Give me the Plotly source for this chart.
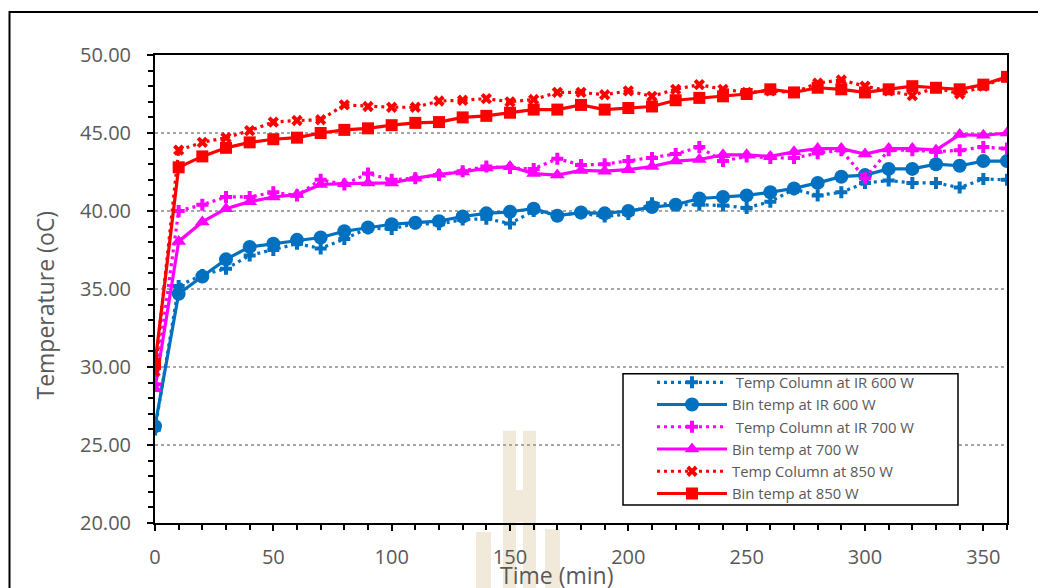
import plotly.graph_objects as go

time_min = [0, 10, 20, 30, 40, 50, 60, 70, 80, 90, 100, 110, 120, 130, 140, 150, 160, 170, 180,
            190, 200, 210, 220, 230, 240, 250, 260, 270, 280, 290, 300, 310, 320, 330, 340, 350, 360]

col_600 = [26.0, 35.2, 35.9, 36.3, 37.15, 37.5, 37.9, 37.6, 38.2, 38.9, 38.85, 39.2, 39.15, 39.45, 39.5,
           39.2, 40.0, 39.75, 39.85, 39.65, 39.8, 40.5, 40.4, 40.4, 40.35, 40.2, 40.6, 41.4, 41.0, 41.2,
           41.8, 41.95, 41.8, 41.8, 41.5, 42.05, 42.0]
bin_600 = [26.2, 34.7, 35.8, 36.9, 37.7, 37.9, 38.15, 38.3, 38.7, 38.95, 39.15, 39.25, 39.35, 39.65, 39.85,
           39.95, 40.15, 39.7, 39.9, 39.85, 40.0, 40.25, 40.4, 40.8, 40.9, 41.0, 41.2, 41.45, 41.8, 42.2,
           42.3, 42.7, 42.7, 43.0, 42.9, 43.2, 43.2]
col_700 = [28.9, 40.0, 40.4, 40.9, 40.9, 41.2, 41.0, 42.0, 41.7, 42.4, 42.0, 42.1, 42.3, 42.55, 42.85,
           42.75, 42.7, 43.35, 42.95, 43.0, 43.2, 43.4, 43.65, 44.1, 43.2, 43.5, 43.4, 43.4, 43.7, 43.9,
           42.1, 43.9, 43.9, 43.8, 43.9, 44.1, 44.0]
bin_700 = [28.6, 38.05, 39.3, 40.15, 40.6, 40.9, 41.05, 41.7, 41.75, 41.8, 41.8, 42.1, 42.35, 42.5, 42.75,
           42.85, 42.4, 42.3, 42.6, 42.55, 42.65, 42.85, 43.2, 43.3, 43.6, 43.6, 43.5, 43.8, 44.0, 44.0,
           43.65, 44.0, 44.0, 43.9, 44.9, 44.85, 45.0]
col_850 = [29.7, 43.9, 44.4, 44.7, 45.15, 45.7, 45.8, 45.85, 46.8, 46.7, 46.65, 46.65, 47.05, 47.1, 47.2,
           47.0, 47.15, 47.6, 47.6, 47.45, 47.7, 47.35, 47.8, 48.1, 47.8, 47.6, 47.7, 47.6, 48.2, 48.4,
           48.0, 47.7, 47.4, 47.9, 47.5, 48.0, 48.6]
bin_850 = [30.2, 42.8, 43.5, 44.05, 44.4, 44.6, 44.7, 45.0, 45.2, 45.3, 45.5, 45.65, 45.7, 46.0, 46.1,
           46.3, 46.5, 46.5, 46.8, 46.5, 46.6, 46.7, 47.1, 47.25, 47.35, 47.5, 47.8, 47.6, 47.9, 47.8,
           47.6, 47.8, 48.0, 47.9, 47.8, 48.1, 48.6]

x_ticks = [0, 50, 100, 150, 200, 250, 300, 350]

BLUE = "#0070C0"
MAG = "#FF00FF"
RED = "#FF0000"
DOT = "3px,4px"

series = [
    (" Temp Column at IR 600 W", col_600, BLUE, DOT, "cross", 10),
    ("Bin temp at IR 600 W", bin_600, BLUE, "solid", "circle", 14),
    (" Temp Column at IR 700 W", col_700, MAG, DOT, "cross", 10),
    ("Bin temp at 700 W", bin_700, MAG, "solid", "triangle-up", 13),
    ("Temp Column at 850 W", col_850, RED, DOT, "x", 10),
    ("Bin temp at 850 W", bin_850, RED, "solid", "square", 12),
]

fig = go.Figure()
for name, vals, color, dash, sym, size in series:
    fig.add_trace(go.Scatter(
        x=time_min, y=vals, name=name, mode="lines+markers",
        line=dict(color=color, width=3.2, dash=dash),
        marker=dict(symbol=sym, size=size, color=color, line=dict(width=0)),
    ))

GRAY = "#595959"
tickfont = dict(family="Open Sans", size=20, color=GRAY)

# pixel (window) -> paper helpers for decorations; plot area spans x 155..1007, y 54..521
def px(x):
    return (x - 155) / 852.0

def py(y):
    return (521 - y) / 467.0

WM = "#F1E9D9"
def wm_rect(x0, x1, y0, y1):
    return dict(type="rect", xref="paper", yref="paper", x0=px(x0), x1=px(x1), y0=py(y1), y1=py(y0),
                line=dict(width=0), fillcolor=WM, layer="below")

shapes = [
    # faint watermark behind the chart
    wm_rect(503, 516, 429, 600),
    wm_rect(523, 536, 429, 600),
    wm_rect(516, 523, 488, 520),
    wm_rect(545, 560, 527, 600),
    wm_rect(476, 491, 530, 600),
    # outer chart frame
    dict(type="rect", xref="paper", yref="paper", x0=px(9.5), x1=1.2, y0=-0.3, y1=py(11),
         line=dict(color="black", width=2), fillcolor="rgba(0,0,0,0)", layer="below"),
    # legend frame
    dict(type="rect", xref="paper", yref="paper", x0=px(623), x1=px(958), y0=py(503), y1=py(372),
         line=dict(color="black", width=1.5), fillcolor="white", layer="above"),
]

# page body adds an 8px offset; figure is sized/margined so the plot lands where the reference has it
fig.update_layout(
    width=1038, height=580,
    margin=dict(l=147, r=39, t=47, b=65),
    paper_bgcolor="white", plot_bgcolor="rgba(0,0,0,0)",
    showlegend=True,
    legend=dict(
        x=px(652), y=py(364.5), xanchor="left", yanchor="top",
        bgcolor="rgba(0,0,0,0)", borderwidth=0,
        font=dict(family="Open Sans", size=14.8, color=GRAY),
        itemwidth=70, tracegroupgap=0,
    ),
    xaxis=dict(
        range=[0, 360], tickmode="array", tickvals=x_ticks,
        ticks="outside", ticklen=6, tickwidth=2, tickcolor="black",
        minor=dict(tickmode="linear", tick0=0, dtick=10, ticks="outside", ticklen=5, tickwidth=1.5, tickcolor="black"),
        showline=True, linecolor="black", linewidth=2, mirror=True,
        showgrid=False, zeroline=False,
        tickfont=tickfont, ticklabelstandoff=9,
    ),
    yaxis=dict(
        range=[20, 50], tickmode="linear", tick0=20, dtick=5, tickformat=".2f",
        ticks="outside", ticklen=6, tickwidth=2, tickcolor="black",
        minor=dict(tickmode="linear", tick0=20, dtick=1, ticks="outside", ticklen=5, tickwidth=1.5, tickcolor="black"),
        showline=True, linecolor="black", linewidth=2, mirror=True,
        showgrid=True, gridcolor="#A6A6A6", gridwidth=1.5, griddash="dot",
        zeroline=False,
        tickfont=tickfont, ticklabelstandoff=12,
    ),
    xaxis2=dict(
        overlaying="x", matches="x", range=[0, 360], showticklabels=False, showgrid=False, zeroline=False,
        tickmode="array", tickvals=x_ticks,
        ticks="inside", ticklen=6, tickwidth=2, tickcolor="black",
        minor=dict(tickmode="linear", tick0=0, dtick=10, ticks="inside", ticklen=5, tickwidth=1.5, tickcolor="black"),
    ),
    yaxis2=dict(
        overlaying="y", matches="y", range=[20, 50], showticklabels=False, showgrid=False, zeroline=False,
        tickmode="linear", tick0=20, dtick=5,
        ticks="inside", ticklen=6, tickwidth=2, tickcolor="black",
        minor=dict(tickmode="linear", tick0=20, dtick=1, ticks="inside", ticklen=5, tickwidth=1.5, tickcolor="black"),
    ),
    shapes=shapes,
    annotations=[
        dict(text="Temperature (oC)", textangle=-90, xref="paper", yref="paper",
             x=px(45), y=py(304), xanchor="center", yanchor="middle", showarrow=False,
             font=dict(family="Open Sans", size=23, color=GRAY)),
        dict(text="Time (min)", xref="paper", yref="paper",
             x=px(556), y=py(573), xanchor="center", yanchor="middle", showarrow=False,
             font=dict(family="Open Sans", size=23, color=GRAY)),
    ],
)

fig.write_html("out.html")
